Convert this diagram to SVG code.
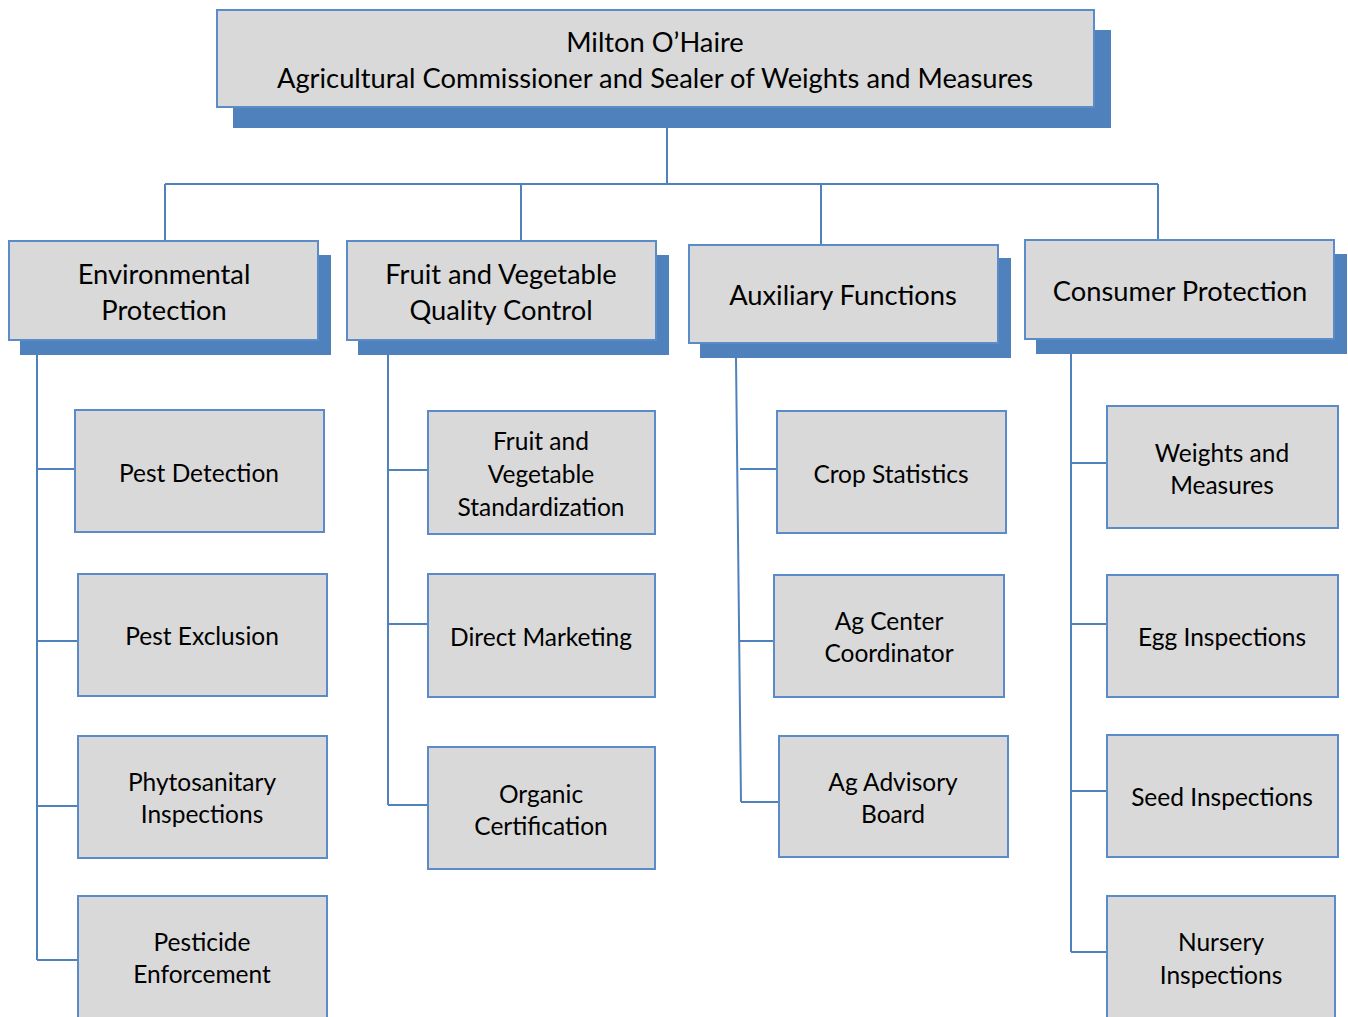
<svg xmlns="http://www.w3.org/2000/svg" width="1348" height="1017" viewBox="0 0 1348 1017">
<style>
.box{fill:#d9d9d9;stroke:#5b8bc8;stroke-width:2}
.sh{fill:#4f81bd}
.ln{fill:none;stroke:#4f81bd;stroke-width:2}
text{font-family:Lato,"Open Sans","Liberation Sans",sans-serif;fill:#000;text-anchor:middle;dominant-baseline:central}
.t1{font-size:27.3px}
.t2{font-size:24.5px}
</style>
<rect width="1348" height="1017" fill="#fff"/>
<g id="connectors">
<path class="ln" d="M667 128V184M165 184H1158M165 184V241M521 184V241M821 184V244M1158 184V240"/>
<path class="ln" d="M37 355V960M37 469H75M37 641H78M37 806H78M37 960H78"/>
<path class="ln" d="M388 355V805M388 470H428M388 624H428M388 805H428"/>
<path class="ln" d="M736 358L741 802M740 469H777M740 641H774M741 802H779"/>
<path class="ln" d="M1071 354V952M1071 463H1107M1071 624H1107M1071 791H1107M1071 952H1107"/>
</g>
<g id="commissioner">
<rect class="sh" x="233" y="30" width="878" height="98"/>
<rect class="box" x="217" y="10" width="877" height="97"/>
<text class="t1" x="655" y="41">Milton O’Haire</text>
<text class="t1" x="655" y="77">Agricultural Commissioner and Sealer of Weights and Measures</text>
</g>
<g id="env">
<rect class="sh" x="20" y="255" width="311" height="100"/>
<rect class="box" x="9" y="241" width="309" height="99"/>
<text class="t1" x="164" y="273">Environmental</text>
<text class="t1" x="164" y="309">Protection</text>
</g>
<g id="fvqc">
<rect class="sh" x="358" y="255" width="311" height="100"/>
<rect class="box" x="347" y="241" width="309" height="99"/>
<text class="t1" x="501" y="273">Fruit and Vegetable</text>
<text class="t1" x="501" y="309">Quality Control</text>
</g>
<g id="aux">
<rect class="sh" x="700" y="258" width="311" height="100"/>
<rect class="box" x="689" y="245" width="309" height="98"/>
<text class="t1" x="843" y="294">Auxiliary Functions</text>
</g>
<g id="consumer">
<rect class="sh" x="1036" y="254" width="311" height="100"/>
<rect class="box" x="1025" y="240" width="309" height="99"/>
<text class="t1" x="1180" y="290">Consumer Protection</text>
</g>
<g id="pest-detection">
<rect class="box" x="75" y="410" width="249" height="122"/>
<text class="t2" x="199" y="472">Pest Detection</text>
</g>
<g id="pest-exclusion">
<rect class="box" x="78" y="574" width="249" height="122"/>
<text class="t2" x="202" y="635">Pest Exclusion</text>
</g>
<g id="phyto">
<rect class="box" x="78" y="736" width="249" height="122"/>
<text class="t2" x="202" y="781">Phytosanitary</text>
<text class="t2" x="202" y="813">Inspections</text>
</g>
<g id="pesticide">
<rect class="box" x="78" y="896" width="249" height="130"/>
<text class="t2" x="202" y="941">Pesticide</text>
<text class="t2" x="202" y="973">Enforcement</text>
</g>
<g id="fv-std">
<rect class="box" x="428" y="411" width="227" height="123"/>
<text class="t2" x="541" y="440">Fruit and</text>
<text class="t2" x="541" y="473">Vegetable</text>
<text class="t2" x="541" y="506">Standardization</text>
</g>
<g id="direct-marketing">
<rect class="box" x="428" y="574" width="227" height="123"/>
<text class="t2" x="541" y="636">Direct Marketing</text>
</g>
<g id="organic">
<rect class="box" x="428" y="747" width="227" height="122"/>
<text class="t2" x="541" y="793">Organic</text>
<text class="t2" x="541" y="825">Certification</text>
</g>
<g id="crop-stats">
<rect class="box" x="777" y="411" width="229" height="122"/>
<text class="t2" x="891" y="473">Crop Statistics</text>
</g>
<g id="ag-center">
<rect class="box" x="774" y="575" width="230" height="122"/>
<text class="t2" x="889" y="620">Ag Center</text>
<text class="t2" x="889" y="652">Coordinator</text>
</g>
<g id="ag-advisory">
<rect class="box" x="779" y="736" width="229" height="121"/>
<text class="t2" x="893" y="781">Ag Advisory</text>
<text class="t2" x="893" y="813">Board</text>
</g>
<g id="weights">
<rect class="box" x="1107" y="406" width="231" height="122"/>
<text class="t2" x="1222" y="452">Weights and</text>
<text class="t2" x="1222" y="484">Measures</text>
</g>
<g id="egg">
<rect class="box" x="1107" y="575" width="231" height="122"/>
<text class="t2" x="1222" y="636">Egg Inspections</text>
</g>
<g id="seed">
<rect class="box" x="1107" y="735" width="231" height="122"/>
<text class="t2" x="1222" y="796">Seed Inspections</text>
</g>
<g id="nursery">
<rect class="box" x="1107" y="896" width="228" height="130"/>
<text class="t2" x="1221" y="941">Nursery</text>
<text class="t2" x="1221" y="974">Inspections</text>
</g>
</svg>
